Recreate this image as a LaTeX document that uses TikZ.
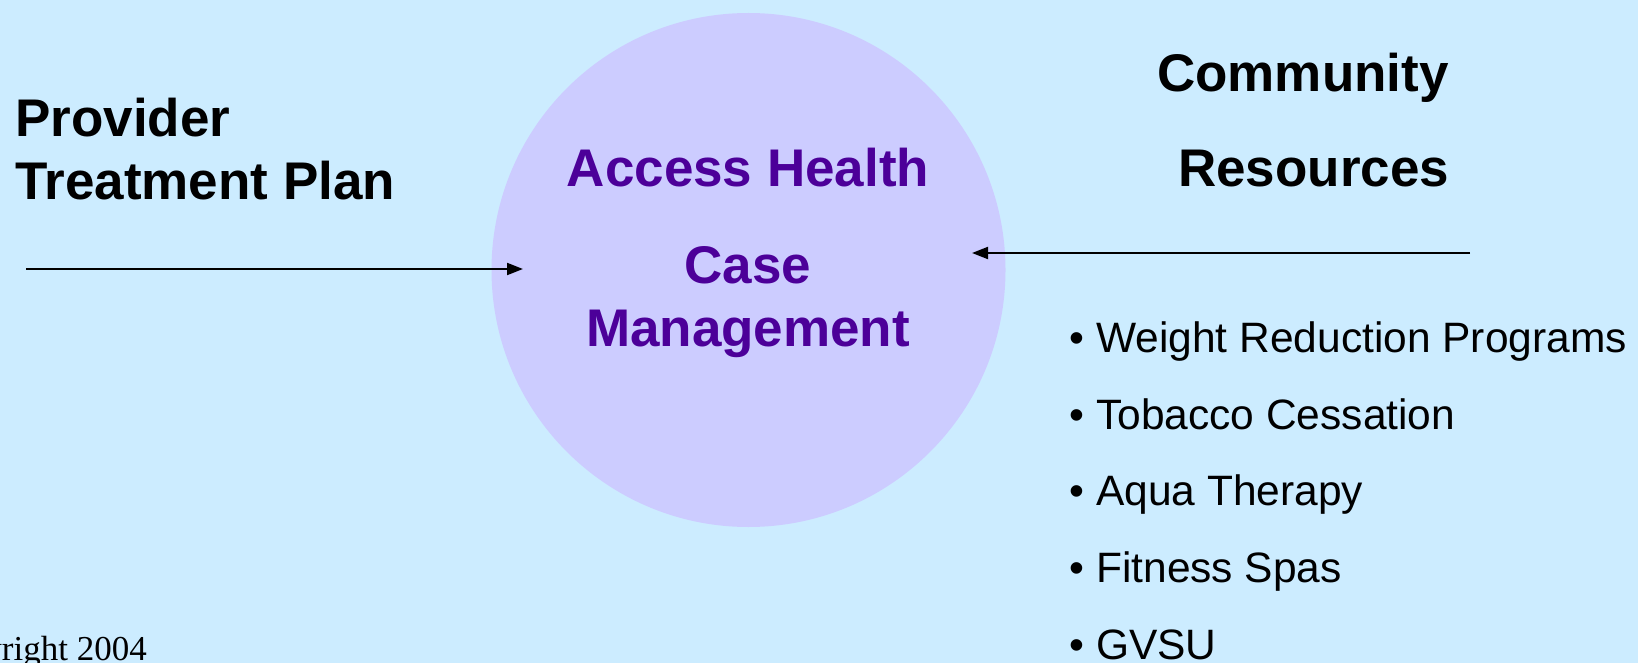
\documentclass[tikz,border=0pt]{standalone}
\usepackage{fontspec}
\setmainfont{Liberation Sans}
\newfontfamily\serifcr{Liberation Serif}
\usetikzlibrary{arrows.meta}
\definecolor{bgblue}{RGB}{204,236,255}
\definecolor{circfill}{RGB}{204,204,255}
\definecolor{purp}{RGB}{76,0,153}
\begin{document}
\begin{tikzpicture}[x=1pt,y=-1pt,
  title/.style={font=\fontsize{53}{58}\selectfont\bfseries, inner sep=0pt},
  item/.style={font=\fontsize{42.5}{50}\selectfont, inner sep=0pt, anchor=base west},
  conn/.style={line width=2pt, -{Triangle[length=16pt,width=12pt]}}]
\fill[bgblue] (0,0) rectangle (1638,663);
\useasboundingbox (0,0) rectangle (1638,663);
\clip (0,0) rectangle (1638,663);
\node[circle, fill=circfill, minimum size=514pt, inner sep=0pt] (cm) at (748.5,270) {};
\node[title, text=purp, anchor=base] (ah) at (748,187) {Access Health};
\node[title, text=purp, anchor=base] (case) at (748,283) {Case};
\node[title, text=purp, anchor=base] (mgmt) at (748,346) {Management};
\node[title, anchor=base west] (prov) at (15,137) {Provider};
\node[title, anchor=base west] (tplan) at (15,200) {Treatment Plan};
\node[title, anchor=base west] (comm) at (1157,92) {Community};
\node[title, anchor=base west] (res) at (1178,187) {Resources};
\node[item] (i1) at (1069,352) {\makebox[27pt][l]{•}Weight Reduction Programs};
\node[item] (i2) at (1069,429) {\makebox[27pt][l]{•}Tobacco Cessation};
\node[item] (i3) at (1069,505) {\makebox[27pt][l]{•}Aqua Therapy};
\node[item] (i4) at (1069,582) {\makebox[27pt][l]{•}Fitness Spas};
\node[item] (i5) at (1069,659) {\makebox[27pt][l]{•}GVSU};
\node[font=\serifcr\fontsize{35}{40}\selectfont, anchor=base east, inner sep=0pt] (copy) at (147,660) {Copyright 2004};
\coordinate (la) at (26,269);
\coordinate (lb) at (523,269);
\coordinate (ra) at (1470,253);
\coordinate (rb) at (972,253);
\draw[conn] (la) -- (lb);
\draw[conn] (ra) -- (rb);
\end{tikzpicture}
\end{document}
